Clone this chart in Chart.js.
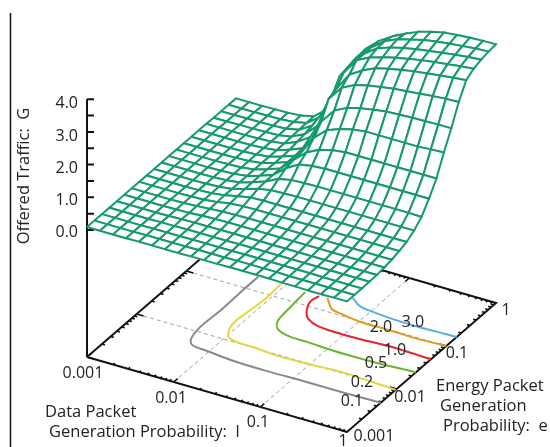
<!DOCTYPE html>
<html>
<head>
<meta charset="utf-8">
<style>
  html, body { margin: 0; padding: 0; background: #fff; }
  canvas { display: block; }
</style>
<script src="https://cdn.jsdelivr.net/npm/chart.js@4"></script>
</head>
<body>
<canvas id="chart" width="550" height="447"></canvas>
<script>
// log10 of the grid positions on both base axes
const gridLog = [-3, -2.85, -2.7, -2.55, -2.4, -2.25, -2.1, -1.95, -1.8, -1.65, -1.5, -1.35, -1.2, -1.05, -0.9, -0.75, -0.6, -0.45, -0.3, -0.15, 0];

// offered traffic G, one row per e (low to high), one value per l (low to high)
const trafficG = [
  [.09,.09,.09,.09,.10,.10,.10,.10,.11,.11,.11,.12,.12,.12,.12,.11,.11,.10,.10,.11,.11],
  [.09,.09,.09,.09,.10,.10,.10,.10,.11,.11,.11,.12,.12,.12,.12,.11,.11,.11,.11,.11,.11],
  [.09,.09,.09,.09,.10,.10,.10,.11,.11,.11,.11,.12,.12,.12,.12,.12,.12,.11,.11,.11,.11],
  [.09,.09,.09,.09,.10,.10,.11,.11,.11,.11,.12,.12,.12,.12,.12,.12,.12,.12,.12,.12,.12],
  [.09,.09,.09,.09,.10,.11,.12,.12,.13,.13,.13,.13,.13,.13,.13,.13,.13,.13,.13,.13,.13],
  [.09,.09,.09,.09,.10,.11,.14,.15,.16,.16,.16,.16,.16,.16,.16,.16,.16,.16,.16,.16,.16],
  [.09,.09,.09,.09,.10,.12,.15,.18,.19,.20,.20,.20,.20,.20,.20,.20,.20,.20,.20,.20,.20],
  [.09,.09,.09,.09,.10,.12,.16,.23,.26,.27,.27,.27,.27,.27,.27,.27,.27,.27,.27,.27,.27],
  [.09,.09,.09,.09,.10,.12,.17,.26,.33,.35,.35,.35,.35,.35,.35,.35,.35,.35,.35,.35,.35],
  [.09,.09,.09,.09,.10,.12,.17,.28,.40,.47,.49,.50,.50,.50,.50,.50,.50,.50,.50,.50,.50],
  [.09,.09,.09,.09,.10,.12,.17,.29,.43,.62,.70,.72,.73,.73,.73,.73,.73,.73,.73,.73,.72],
  [.09,.09,.09,.09,.10,.12,.17,.29,.43,.75,.98,1.05,1.08,1.08,1.08,1.08,1.08,1.08,1.08,1.08,1.08],
  [.09,.09,.09,.09,.10,.12,.17,.29,.43,.80,1.15,1.35,1.45,1.5,1.5,1.5,1.5,1.5,1.5,1.5,1.5],
  [.09,.09,.09,.09,.10,.12,.17,.29,.43,.82,1.4,1.75,1.9,2.0,2.05,2.05,2.05,2.05,2.05,2.08,2.1],
  [.09,.09,.09,.09,.10,.12,.17,.29,.43,.85,1.7,2.15,2.35,2.45,2.52,2.58,2.6,2.62,2.63,2.64,2.64],
  [.09,.09,.09,.09,.10,.12,.17,.30,.46,.95,2.2,2.65,2.85,2.95,3.02,3.08,3.12,3.16,3.2,3.23,3.25],
  [.09,.09,.09,.09,.10,.12,.18,.34,.60,1.2,2.3,2.85,3.1,3.28,3.38,3.46,3.53,3.58,3.63,3.68,3.72],
  [.08,.08,.09,.09,.10,.12,.19,.38,.75,1.4,2.6,3.1,3.3,3.42,3.52,3.6,3.67,3.73,3.78,3.83,3.87],
  [.08,.08,.09,.09,.10,.12,.20,.44,1.05,1.85,2.65,3.1,3.38,3.52,3.62,3.7,3.76,3.82,3.87,3.92,3.95],
  [.08,.08,.08,.09,.10,.13,.21,.50,1.3,2.05,2.7,3.1,3.4,3.58,3.68,3.78,3.85,3.9,3.94,3.98,4.0],
  [.08,.08,.08,.09,.10,.13,.22,.55,1.7,2.25,2.75,3.1,3.35,3.55,3.72,3.84,3.93,3.97,4.0,4.02,4.03]
];

// contour lines on the base, log10(l) and log10(e)
const contourLevels = ['0.1', '0.2', '0.5', '1.0', '2.0', '3.0'];
const contourColors = ['#8a8a8a', '#e6d83c', '#6cb52d', '#e8222a', '#e29a1e', '#5aaede'];
const contour01L = [-2.32, -2.32, -2.31, -2.32, -2.28, -2.21, -2.02, -1.70, -1.30, -0.84, -0.44, 0];
const contour01E = [-0.74, -1.05, -1.53, -1.91, -2.16, -2.26, -2.29, -2.33, -2.34, -2.33, -2.33, -2.32];
const contour02L = [-2.05, -2.04, -2.06, -2.07, -1.99, -1.88, -1.66, -1.39, -1.02, -0.64, -0.29, 0];
const contour02E = [-0.75, -1.14, -1.41, -1.69, -1.92, -1.98, -1.99, -2.02, -2.01, -1.98, -2.00, -2.02];
const contour05L = [-1.76, -1.74, -1.71, -1.63, -1.47, -1.24, -0.92, -0.60, -0.34, 0];
const contour05E = [-0.77, -1.08, -1.41, -1.55, -1.62, -1.63, -1.65, -1.65, -1.64, -1.61];
const contour10L = [-1.60, -1.62, -1.55, -1.47, -1.31, -1.02, -0.73, -0.46, -0.19, 0];
const contour10E = [-0.77, -0.92, -1.11, -1.22, -1.30, -1.32, -1.31, -1.29, -1.30, -1.31];
const contour20L = [-1.51, -1.36, -1.22, -1.01, -0.62, -0.32, 0];
const contour20E = [-0.76, -0.93, -0.97, -1.01, -1.01, -1.02, -1.00];
const contour30L = [-1.29, -1.15, -1.01, -0.74, -0.47, -0.21, 0];
const contour30E = [-0.63, -0.74, -0.77, -0.80, -0.81, -0.80, -0.79];
const contourL = [contour01L, contour02L, contour05L, contour10L, contour20L, contour30L];
const contourE = [contour01E, contour02E, contour05E, contour10E, contour20E, contour30E];

// tick labels
const decades = [-3, -2, -1, 0];
const decadeLabels = ['0.001', '0.01', '0.1', '1'];
const gTicks = [0, 0.5, 1, 1.5, 2, 2.5, 3, 3.5, 4];
const gLabels = ['0.0', '1.0', '2.0', '3.0', '4.0'];

// oblique projection of the 3D box on the canvas
function project(logL, logE, g) {
    const t = (logL + 3) / 3;
    const s = (logE + 3) / 3;
    let y = 357 + t * 75 - s * 129;
    if (g !== null) y = y - 127 - g * 32.7;
    return { x: 87 + t * 260 + s * 149, y: y };
}

const datasets = [];

function addLine(points, color, width, dash, tension) {
    datasets.push({
        data: points,
        borderColor: color,
        borderWidth: width,
        borderDash: dash || [],
        pointRadius: 0,
        showLine: true,
        tension: tension || 0
    });
}

// surface, front cells first because the first dataset ends up on top
for (let j = 0; j < 20; j++) {
    for (let i = 19; i >= 0; i--) {
        datasets.push({
            data: [
                project(gridLog[i], gridLog[j], trafficG[j][i]),
                project(gridLog[i + 1], gridLog[j], trafficG[j][i + 1]),
                project(gridLog[i + 1], gridLog[j + 1], trafficG[j + 1][i + 1]),
                project(gridLog[i], gridLog[j + 1], trafficG[j + 1][i]),
                project(gridLog[i], gridLog[j], trafficG[j][i])
            ],
            borderColor: '#17996f',
            borderWidth: 2,
            backgroundColor: '#ffffff',
            fill: 'shape',
            pointRadius: 0,
            showLine: true,
            tension: 0
        });
    }
}

// contours
contourL.forEach((ls, k) => {
    addLine(ls.map((l, n) => project(l, contourE[k][n], null)), contourColors[k], 2, [], 0.35);
});

// base frame and ticks
const gap = { x: NaN, y: NaN };
const ticks = [];
decades.slice(0, 3).forEach(d => {
    [1, 2, 3, 4, 5, 6, 7, 8, 9].forEach(m => {
        const p = d + Math.log10(m);
        const len = m === 1 ? 0.08 : 0.035;
        ticks.push(project(p, -3, null), project(p, -3 + len, null), gap);
        ticks.push(project(p, 0, null), project(p, -len, null), gap);
        ticks.push(project(-3, p, null), project(-3 + len, p, null), gap);
        ticks.push(project(0, p, null), project(-len, p, null), gap);
    });
});
addLine(ticks, '#111111', 1.6);

decades.slice(1, 3).forEach(d => {
    addLine([project(d, -3, null), project(d, 0, null)], '#a0a0a0', 1, [4, 3]);
    addLine([project(-3, d, null), project(0, d, null)], '#a0a0a0', 1, [4, 3]);
});

addLine([project(-3, -3, null), project(0, -3, null), project(0, 0, null), project(-3, 0, null), project(-3, -3, null)], '#111111', 2);

// G axis with its ticks
const zTicks = [];
gTicks.forEach(g => {
    const p = project(-3, -3, g);
    zTicks.push({ x: p.x, y: p.y }, { x: p.x + 7, y: p.y }, gap);
});
addLine(zTicks, '#111111', 2);
addLine([project(-3, -3, null), project(-3, -3, 4)], '#111111', 2);

// the rule on the left of the page
addLine([{ x: 10.5, y: 13 }, { x: 10.5, y: 447 }], '#111111', 1.5);

const texts = [
    [gLabels[4], 78, 103, 'right'], [gLabels[3], 78, 136, 'right'], [gLabels[2], 78, 168, 'right'],
    [gLabels[1], 78, 200.5, 'right'], [gLabels[0], 78, 232, 'right'],
    [decadeLabels[0], 83, 373], [decadeLabels[1], 171, 398], [decadeLabels[2], 258, 422], [decadeLabels[3], 343, 441],
    [decadeLabels[0], 374, 436], [decadeLabels[1], 410, 397], [decadeLabels[2], 457, 353], [decadeLabels[3], 506, 310],
    [contourLevels[0], 352, 401], [contourLevels[1], 362, 382], [contourLevels[2], 376, 363],
    [contourLevels[3], 395, 350], [contourLevels[4], 381, 327], [contourLevels[5], 413, 322]
];
const titles = [
    ['Data Packet', 45, 412], ['Generation Probability:  l', 49, 432],
    ['Energy Packet', 436, 386], ['Generation', 440, 406], ['Probability:  e', 443, 426]
];

const textPlugin = {
    id: 'chartText',
    afterDatasetsDraw(chart) {
        const ctx = chart.ctx;
        ctx.save();
        ctx.fillStyle = '#222222';
        ctx.font = '16px "Open Sans"';
        ctx.textBaseline = 'middle';
        texts.forEach(t => {
            ctx.textAlign = t[3] || 'center';
            ctx.fillText(t[0], t[1], t[2]);
        });
        ctx.font = '16.5px "Open Sans"';
        ctx.textAlign = 'left';
        titles.forEach(t => ctx.fillText(t[0], t[1], t[2]));
        ctx.translate(24, 176);
        ctx.rotate(-Math.PI / 2);
        ctx.textAlign = 'center';
        ctx.fillText('Offered Traffic:  G', 0, 0);
        ctx.restore();
    }
};

new Chart(document.getElementById('chart'), {
    type: 'scatter',
    data: { datasets: datasets },
    plugins: [textPlugin],
    options: {
        responsive: false,
        animation: false,
        layout: { padding: 0 },
        plugins: { legend: { display: false }, tooltip: { enabled: false } },
        scales: {
            x: { type: 'linear', min: 0, max: 550, display: false },
            y: { type: 'linear', min: 0, max: 447, reverse: true, display: false }
        }
    }
});
</script>
</body>
</html>
